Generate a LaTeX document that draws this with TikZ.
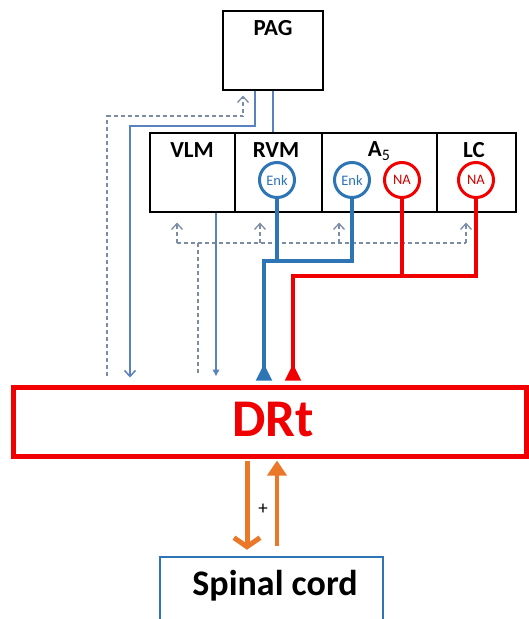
\documentclass[tikz,border=0pt]{standalone}
\usepackage{fontspec}
\setmainfont{Carlito}
\usetikzlibrary{arrows.meta}
\definecolor{cblue}{RGB}{46,117,182}
\definecolor{tblue}{RGB}{90,130,190}
\definecolor{dgray}{RGB}{125,140,165}
\definecolor{cred}{RGB}{240,0,0}
\definecolor{corange}{RGB}{235,120,40}
\tikzset{
  box/.style={draw=black,line width=1.1pt,inner sep=0pt},
  ttl/.style={font=\fontsize{23}{23}\selectfont\bfseries,inner sep=0pt},
  circb/.style={circle,draw=cblue,line width=3pt,minimum size=35pt,inner sep=0pt,
    text=cblue,font=\fontsize{14.5}{14.5}\selectfont},
  circr/.style={circle,draw=cred,line width=3pt,minimum size=35pt,inner sep=0pt,
    text=cred!85!black,font=\fontsize{14.5}{14.5}\selectfont},
  thinb/.style={draw=tblue,line width=1.5pt},
  dsh/.style={draw=dgray,line width=1.3pt,dash pattern=on 4pt off 3pt},
  opentip/.style={-{Straight Barb[length=6pt,width=11pt]}},
  bthick/.style={draw=cblue,line width=4pt},
  rthick/.style={draw=cred,line width=4pt},
}
\begin{document}
\begin{tikzpicture}[x=1pt,y=-1pt]
\useasboundingbox (0,0) rectangle (529,619);
% boxes
\node[box,minimum width=100pt,minimum height=79pt] (pag) at (273,50.5) {};
\node[ttl] (pagt) at (273,28) {PAG};
\node[box,minimum width=85pt,minimum height=79pt] (vlm) at (192.5,172.5) {};
\node[box,minimum width=87pt,minimum height=79pt] (rvm) at (278.5,172.5) {};
\node[box,minimum width=115pt,minimum height=79pt] (a5) at (379.5,172.5) {};
\node[box,minimum width=79pt,minimum height=79pt] (lc) at (476.5,172.5) {};
\node[ttl] (vlmt) at (192,150) {VLM};
\node[ttl] (rvmt) at (276,150) {RVM};
\node[ttl] (a5t) at (379,151) {A\raisebox{-4pt}{\fontsize{16}{16}\selectfont\mdseries 5}};
\node[ttl] (lct) at (474,150) {LC};
% circles
\node[circb] (enk1) at (277,180) {Enk};
\node[circb] (enk2) at (352,180) {Enk};
\node[circr] (na1) at (402,180) {NA};
\node[circr] (na2) at (476,180) {NA};
% DRt
\node[draw=cred,line width=5pt,minimum width=513pt,minimum height=69pt,inner sep=0pt] (drt) at (269.5,421.5) {};
\node[text=cred,font=\fontsize{53}{53}\selectfont\bfseries,inner sep=0pt] (drtt) at (273,420) {DRt};
% spinal cord
\node[draw=cblue,line width=2.5pt,minimum width=223pt,minimum height=80pt,inner sep=0pt] (sc) at (271.5,597) {};
\node[font=\fontsize{36}{36}\selectfont\bfseries,inner sep=0pt] (sct) at (275,586) {Spinal cord};
% coordinates for bends
\coordinate (b1) at (130,126);
\coordinate (b2) at (107,116);
\coordinate (dh1) at (177,243);
\coordinate (dh2) at (466,243);
\coordinate (bb) at (264,261);
\coordinate (rb) at (293,276);
% PAG -> RVM
\draw[thinb] (pag.south) -- (pag.south |- rvm.north);
% PAG -> DRt
\draw[thinb,opentip,shorten >=7pt] ([xshift=-18pt]pag.south) |- (b1) -- (b1 |- drt.north);
% DRt -> PAG dashed
\draw[dsh,opentip,shorten <=9pt,shorten >=5pt] (b2 |- drt.north) -- (b2) -| ([xshift=-30pt]pag.south);
% dashed feedback to row
\draw[dsh] (dh1) -- (dh2);
\draw[dsh,opentip,shorten >=10pt] (dh1) -- (dh1 |- vlm.south);
\draw[dsh,opentip,shorten >=10pt] (260,243) -- (260,0 |- rvm.south);
\draw[dsh,opentip,shorten >=10pt] (339,243) -- (339,0 |- a5.south);
\draw[dsh,opentip,shorten >=10pt] (dh2) -- (dh2 |- lc.south);
\draw[dsh,shorten >=9pt] (198,243) -- (198,0 |- drt.north);
% VLM -> DRt
\draw[thinb,-{Latex[length=7pt,width=8pt]},shorten >=8pt] (216,0 |- vlm.south) -- (216,0 |- drt.north);
% Enk (blue) -> DRt
\draw[bthick] (enk1.south) -- (enk1.south |- bb);
\draw[bthick,-{Triangle[reversed,length=17pt,width=15pt]},shorten >=4pt] (enk2.south) |- (bb) -- (bb |- drt.north);
% NA (red) -> DRt
\draw[rthick] (na1.south) -- (na1.south |- rb);
\draw[rthick,-{Triangle[reversed,length=17pt,width=15pt]},shorten >=4pt] (na2.south) |- (rb) -- (rb |- drt.north);
% DRt <-> spinal cord
\draw[draw=corange,line width=5pt,-{Straight Barb[length=9pt,width=26pt]},shorten <=2pt,shorten >=6pt] (247,0 |- drt.south) -- (247,0 |- sc.north);
\draw[draw=corange,line width=4pt,-{Triangle[length=15pt,width=19pt]},shorten <=10pt,shorten >=2pt] (277,0 |- sc.north) -- (277,0 |- drt.south);
\node[font=\fontsize{19}{19}\selectfont,inner sep=0pt] (plus) at (263,509) {+};
\end{tikzpicture}
\end{document}
